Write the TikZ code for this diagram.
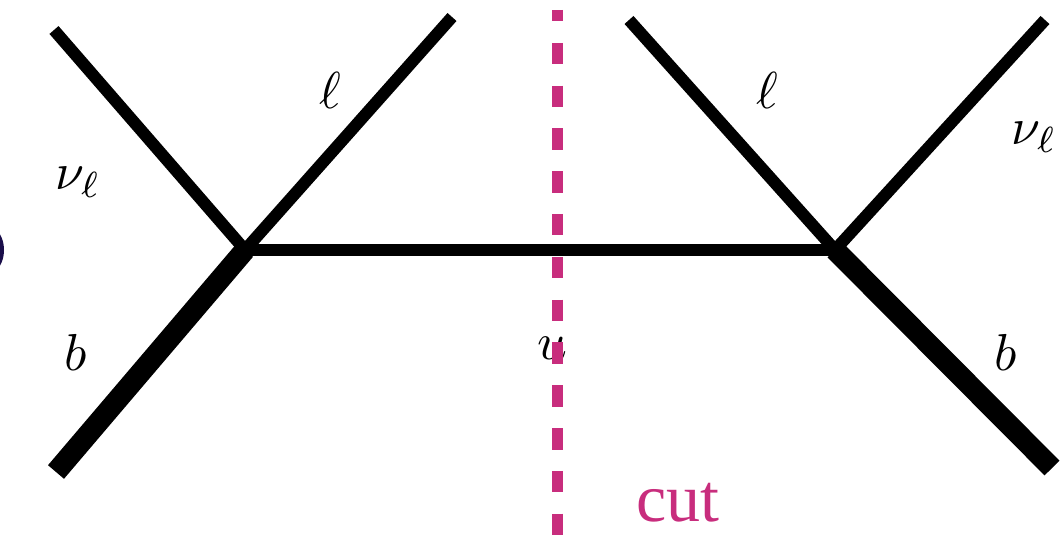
\documentclass[tikz,border=0pt]{standalone}
\usepackage{fontspec}
\newfontfamily\cutfont{Liberation Serif}
\newcommand\bigmath[1]{\scalebox{5.2}{$#1$}}
\definecolor{cutmag}{RGB}{200,45,125}
\definecolor{navy}{RGB}{26,14,74}
\begin{document}
\begin{tikzpicture}[x=1pt,y=-1pt,
  fermion/.style={line width=12pt},
  heavy/.style={line width=21pt},
  lbl/.style={inner sep=0pt},
  cutline/.style={cutmag, line width=11pt, dash pattern=on 21.5pt off 21.3pt, dash phase=10pt}]
\useasboundingbox (0,0) rectangle (1062,537);
\begin{scope}
\clip (0,0) rectangle (1062,537);
\draw[navy, line width=4pt] (-26,250) ellipse [x radius=28, y radius=30];
\end{scope}
% vertices and ends
\coordinate (v1) at (245,250);
\coordinate (v2) at (835,250);
\coordinate (nuL) at (54,30);
\coordinate (lL) at (452,17);
\coordinate (bL) at (56,472);
\coordinate (lR) at (629,20);
\coordinate (nuR) at (1045,20);
\coordinate (bR) at (1052,468);
\coordinate (ctop) at (557.5,10);
\coordinate (cbot) at (557.5,537);
\draw[fermion] (nuL) -- (v1);
\draw[fermion] (v1) -- (lL);
\draw[heavy] (v1) -- (bL);
\draw[fermion] (v1) -- (v2);
\draw[fermion] (lR) -- (v2);
\draw[fermion] (v2) -- (nuR);
\draw[heavy] (v2) -- (bR);
\node[lbl] (t1) at (78,182) {\bigmath{\nu_\ell}};
\node[lbl] (t2) at (330,90) {\bigmath{\ell}};
\node[lbl] (t3) at (76,352) {\bigmath{b}};
\node[lbl] (t4) at (552,348) {\bigmath{u}};
\node[lbl] (t5) at (767,90) {\bigmath{\ell}};
\node[lbl] (t6) at (1034,137) {\bigmath{\nu_\ell}};
\node[lbl] (t7) at (1006,352) {\bigmath{b}};
\draw[cutline] (ctop) -- (cbot);
\node[cutmag, inner sep=0pt, anchor=base, text depth=0pt, font=\cutfont\fontsize{68}{78}\selectfont] (cut) at (678,521) {cut};
\end{tikzpicture}
\end{document}
